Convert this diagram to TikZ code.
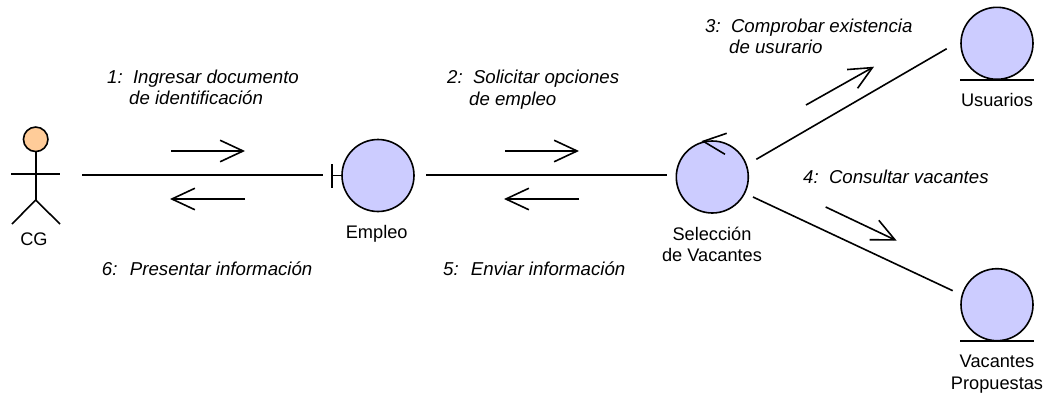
\documentclass[tikz,border=0pt]{standalone}
\usepackage{fontspec}
\setmainfont{Liberation Sans}
\usetikzlibrary{arrows.meta}
\definecolor{lila}{HTML}{CCCCFF}
\definecolor{piel}{HTML}{FFCC99}
\tikzset{
  lw/.style={line width=1.6pt,draw=black},
  obj/.style={circle,lw,fill=lila,minimum size=72pt,inner sep=0pt},
  head/.style={circle,lw,fill=piel,minimum size=24.5pt,inner sep=0pt},
  msg/.style={lw,-{Straight Barb[length=23pt,width=21.5pt]}},
  lab/.style={font=\fontsize{18.2pt}{21.6pt}\selectfont,inner sep=0pt,anchor=base,align=center},
  mlab/.style={font=\fontsize{18.65pt}{21.6pt}\selectfont\itshape,inner sep=0pt,anchor=base west,align=left},
}
\begin{document}
\begin{tikzpicture}[x=1pt,y=-1pt]
\useasboundingbox (0,0) rectangle (1047,394);
% objects
\node[obj] (emp) at (378,175.5) {};
\node[obj] (sel) at (712.3,177) {};
\node[obj] (usu) at (997,43.3) {};
\node[obj] (vac) at (997,304.7) {};
\node[head] (cg) at (35.7,139.3) {};
% actor
\coordinate (hip) at (35.7,200);
\coordinate (armL) at (11,174);
\coordinate (armR) at (60,174);
\coordinate (legL) at (12,224);
\coordinate (legR) at (60,224);
\draw[lw] (cg.south) -- (hip);
\draw[lw] (armL) -- (armR);
\draw[lw] (legL) -- (hip) -- (legR);
% boundary + entity marks
\coordinate (barT) at (332,164);
\coordinate (barB) at (332,188);
\coordinate (barM) at (332,175.5);
\draw[lw] (barT) -- (barB);
\draw[lw] (barM) -- (emp.west);
\coordinate (uL) at (960.3,80);
\coordinate (uR) at (1033.7,80);
\draw[lw] (uL) -- (uR);
\coordinate (vL) at (960.3,341);
\coordinate (vR) at (1033.7,341);
\draw[lw] (vL) -- (vR);
% links
\coordinate (l1a) at (82,175);
\coordinate (l1b) at (323,175);
\draw[lw] (l1a) -- (l1b);
\coordinate (l2a) at (426,175);
\coordinate (l2b) at (667,175);
\draw[lw] (l2a) -- (l2b);
\coordinate (l3a) at (756.3,159.3);
\coordinate (l3b) at (946.7,48.7);
\draw[lw] (l3a) -- (l3b);
\coordinate (l4a) at (753,197);
\coordinate (l4b) at (952.7,290.7);
\draw[lw] (l4a) -- (l4b);
% message arrows
\coordinate (m1a) at (171,151);
\coordinate (m1b) at (245,151);
\draw[msg] (m1a) -- (m1b);
\coordinate (m6a) at (245,199);
\coordinate (m6b) at (170,199);
\draw[msg] (m6a) -- (m6b);
\coordinate (m2a) at (505,151);
\coordinate (m2b) at (579,151);
\draw[msg] (m2a) -- (m2b);
\coordinate (m5a) at (579,199);
\coordinate (m5b) at (504,199);
\draw[msg] (m5a) -- (m5b);
\coordinate (m3a) at (806,105);
\coordinate (m3b) at (874,66.7);
\draw[msg] (m3a) -- (m3b);
\coordinate (m4a) at (825.7,207);
\coordinate (m4b) at (896.7,240.7);
\draw[msg] (m4a) -- (m4b);
\coordinate (s1) at (725,154.3);
\coordinate (s2) at (703.3,141.3);
\coordinate (s3) at (726.7,133.3);
\draw[lw] (s1) -- (s2) -- (s3);
% labels
\node[lab] (tcg) at (34,245) {CG};
\node[lab] (temp) at (376.7,238) {Empleo};
\node[lab] (tsel1) at (712,240) {Selección};
\node[lab] (tsel2) at (712,261.7) {de Vacantes};
\node[lab] (tusu) at (997,106.7) {Usuarios};
\node[lab] (tvac1) at (997,367.7) {Vacantes};
\node[lab] (tvac2) at (997,389.3) {Propuestas};
\node[mlab] (t1a) at (107,83) {1:\hspace{0.55em}Ingresar documento};
\node[mlab] (t1b) at (129,104) {de identificación};
\node[mlab] (t2a) at (447,83) {2:\hspace{0.55em}Solicitar opciones};
\node[mlab] (t2b) at (469,105) {de empleo};
\node[mlab] (t3a) at (705,32) {3:\hspace{0.55em}Comprobar existencia};
\node[mlab] (t3b) at (729,53) {de usurario};
\node[mlab] (t4) at (803,183.7) {4:\hspace{0.55em}Consultar vacantes};
\node[mlab] (t5) at (443,275) {5:\hspace{0.65em}Enviar información};
\node[mlab] (t6) at (101.7,275) {6:\hspace{0.67em}Presentar información};
\end{tikzpicture}
\end{document}
